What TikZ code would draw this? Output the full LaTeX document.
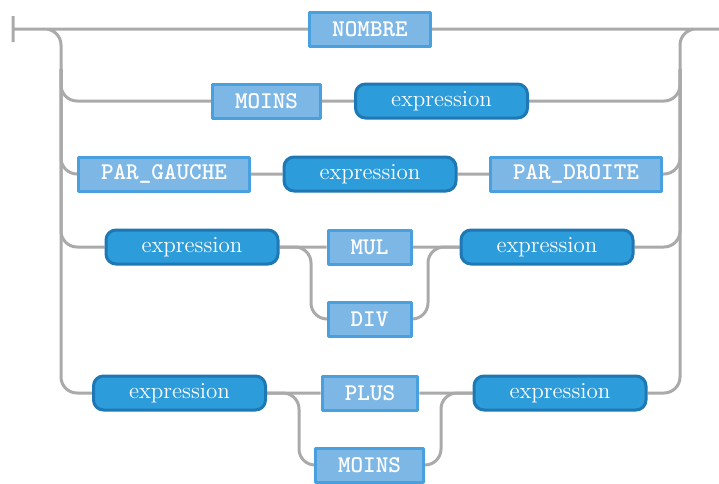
\documentclass[tikz,border=0pt]{standalone}
\usetikzlibrary{backgrounds}
\definecolor{railgray}{RGB}{170,170,170}
\definecolor{termfill}{RGB}{125,183,230}
\definecolor{termdraw}{RGB}{72,160,222}
\definecolor{ntfill}{RGB}{45,156,219}
\definecolor{ntdraw}{RGB}{30,120,180}
\begin{document}
\begin{tikzpicture}[x=0.5pt,y=-0.5pt,line join=round,line cap=round,
	rail/.style={draw=railgray,line width=1.5pt,rounded corners=8pt},
	term/.style={draw=termdraw,fill=termfill,line width=1.5pt,text=white,
		font=\ttfamily\bfseries\fontsize{12}{14}\selectfont,
		inner xsep=11.3pt,minimum height=17pt},
	nonterm/.style={draw=ntdraw,fill=ntfill,line width=1.5pt,rounded corners=5pt,
		text=white,font=\fontsize{11.5}{13}\selectfont,
		minimum width=86pt,minimum height=17pt}]
	\useasboundingbox (0,0) rectangle (719,483);
	\path
	(13,29) coordinate (S)
	(45,29) coordinate (Lin)
	(61,69) coordinate (L1)
	(61,393) coordinate (L5)
	(680,29) coordinate (R)
	(680,69) coordinate (R1)
	(696,29) coordinate (Rout)
	(719,29) coordinate (E)
	(311,283) coordinate (B4l)
	(428,283) coordinate (B4r)
	(299,430) coordinate (B5l)
	(441,430) coordinate (B5r)
	;
	% terminals
	\foreach \n/\x/\y/\t in {nombre/370/29/NOMBRE, moins/266.5/101/MOINS,
		pg/164/174/PAR\_GAUCHE, pd/576/174/PAR\_DROITE, mul/369.5/247/MUL,
		div/369.5/319/DIV, plus/370/393/PLUS, moinsb/369.5/465/MOINS}
	\node[term] (\n) at (\x,\y) {\t};
	% non-terminals
	\foreach \n/\x/\y in {e2/441.5/101, e3/370/174, e4a/192/247, e4b/547/247,
		e5a/179.5/393, e5b/560/393}
	\node[nonterm] (\n) at (\x,\y) {expression};
	\begin{scope}[on background layer]
		\draw[rail]
		(S) ++(0,-13) -- ++(0,26)
		(S) -- (nombre.west)
		(nombre.east) -- (E)
		(Lin) -| (L5) -- (e5a.west)
		(e5b.east) -| (R) -- (Rout)
		(moins.east) -- (e2.west)
		(pg.east) -- (e3.west)
		(e3.east) -- (pd.west)
		(e4a.east) -- (mul.west)
		(mul.east) -- (e4b.west)
		(e5a.east) -- (plus.west)
		(plus.east) -- (e5b.west)
		;
		\foreach \n in {moins,pg,e4a}
		\draw[rail] (L1) |- (\n.west);
		\foreach \n in {e2,pd,e4b}
		\draw[rail] (\n.east) -| (R1);
		\draw[rail] (e4a.east) -| (B4l) |- (div.west);
		\draw[rail] (div.east) -| (B4r) |- (e4b.west);
		\draw[rail] (e5a.east) -| (B5l) |- (moinsb.west);
		\draw[rail] (moinsb.east) -| (B5r) |- (e5b.west);
	\end{scope}
\end{tikzpicture}
\end{document}
